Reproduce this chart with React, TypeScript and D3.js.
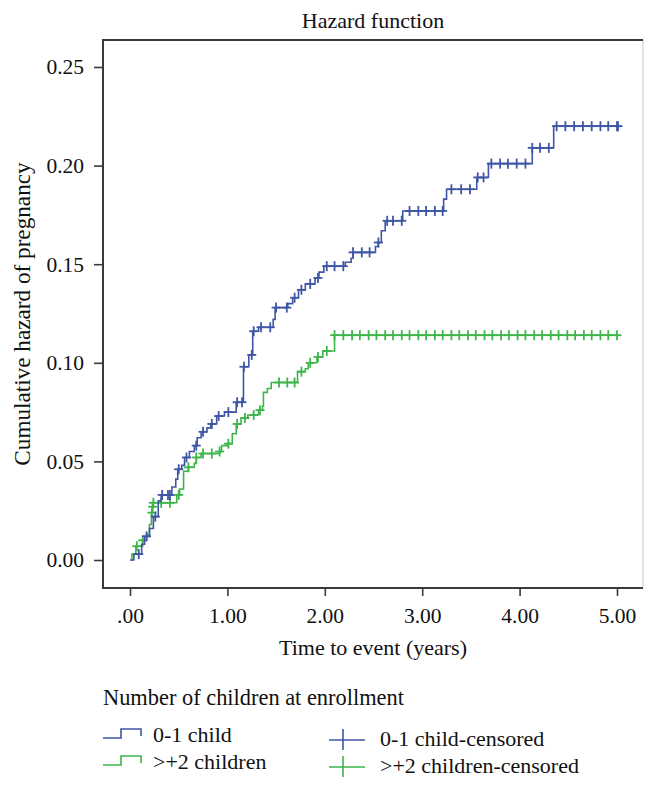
import React, { useEffect, useRef } from "react";
import * as d3 from "d3";

// step changes [time, cumulative hazard]
const blueSteps: [number, number][] = [
  [0.0, 0], [0.04, 0.003], [0.12, 0.008], [0.15, 0.012], [0.2, 0.016], [0.24, 0.022],
  [0.29, 0.03], [0.32, 0.033], [0.43, 0.037], [0.47, 0.041], [0.49, 0.046], [0.53, 0.048],
  [0.56, 0.052], [0.61, 0.055], [0.66, 0.058], [0.69, 0.062], [0.73, 0.065], [0.79, 0.067],
  [0.83, 0.069], [0.89, 0.073], [0.97, 0.075], [1.09, 0.08], [1.165, 0.098], [1.22, 0.104],
  [1.26, 0.116], [1.32, 0.118], [1.47, 0.122], [1.49, 0.128], [1.62, 0.13], [1.67, 0.133],
  [1.73, 0.137], [1.8, 0.14], [1.9, 0.143], [1.94, 0.146], [1.99, 0.149], [2.21, 0.151],
  [2.27, 0.153], [2.29, 0.156], [2.52, 0.159], [2.55, 0.161], [2.58, 0.167], [2.62, 0.172],
  [2.8, 0.177], [3.22, 0.183], [3.25, 0.188], [3.56, 0.194], [3.68, 0.201], [4.13, 0.209],
  [4.35, 0.22],
];
const blueEnd = 5.01;
const blueCensored = [
  0.09, 0.17, 0.26, 0.33, 0.39, 0.41, 0.5, 0.58, 0.68, 0.75, 0.84, 0.91, 1.01, 1.1, 1.15,
  1.17, 1.25, 1.27, 1.345, 1.44, 1.5, 1.61, 1.69, 1.76, 1.85, 1.93, 2.02, 2.1, 2.19, 2.29,
  2.38, 2.46, 2.55, 2.64, 2.7, 2.79, 2.87, 2.96, 3.04, 3.13, 3.21, 3.3, 3.4, 3.49, 3.57,
  3.63, 3.71, 3.8, 3.88, 3.97, 4.06, 4.13, 4.21, 4.3, 4.38, 4.47, 4.56, 4.65, 4.74, 4.83,
  4.91, 5.0, 5.01,
];

const greenSteps: [number, number][] = [
  [0.01, 0], [0.02, 0.003], [0.06, 0.007], [0.13, 0.01], [0.17, 0.013], [0.2, 0.018],
  [0.22, 0.024], [0.23, 0.027], [0.235, 0.029], [0.48, 0.033], [0.51, 0.036], [0.55, 0.045],
  [0.6, 0.047], [0.66, 0.049], [0.68, 0.052], [0.73, 0.054], [0.92, 0.055], [0.94, 0.058],
  [1.0, 0.059], [1.05, 0.064], [1.09, 0.069], [1.14, 0.072], [1.21, 0.0735], [1.32, 0.076],
  [1.36, 0.078], [1.37, 0.085], [1.41, 0.087], [1.45, 0.09], [1.72, 0.0955], [1.8, 0.097],
  [1.83, 0.1], [1.92, 0.103], [1.98, 0.106], [2.1, 0.114],
];
const greenEnd = 5.01;
const greenCensored = [
  0.07, 0.13, 0.225, 0.232, 0.24, 0.32, 0.41, 0.5, 0.6, 0.68, 0.75, 0.84, 0.92, 1.01, 1.1,
  1.18, 1.27, 1.335, 1.53, 1.615, 1.69, 1.76, 1.85, 1.93, 2.02, 2.1, 2.19, 2.28, 2.36, 2.45,
  2.53, 2.62, 2.7, 2.79, 2.87, 2.96, 3.04, 3.13, 3.21, 3.3, 3.38, 3.47, 3.55, 3.64, 3.72,
  3.81, 3.89, 3.98, 4.06, 4.15, 4.23, 4.32, 4.4, 4.49, 4.57, 4.66, 4.74, 4.83, 4.91, 5.0,
];

const xTicks = [0, 1, 2, 3, 4, 5];
const xTickLabels = [".00", "1.00", "2.00", "3.00", "4.00", "5.00"];
const yTicks = [0, 0.05, 0.1, 0.15, 0.2, 0.25];

const legendTitle = "Number of children at enrollment";
const seriesNames = ["0-1 child", ">+2 children"];
const censorNames = ["0-1 child-censored", ">+2 children-censored"];

const BLUE = "#3f56a6";
const GREEN = "#3db54a";
const AXIS = "#3a3a3a";
const FONT = "'Liberation Serif', 'Times New Roman', serif";

const App: React.FC = () => {
  const svgRef = useRef<SVGSVGElement | null>(null);

  useEffect(() => {
    const width = 658, height = 790;
    const svg = d3.select(svgRef.current).attr("width", width).attr("height", height);
    svg.selectAll("*").remove();

    const box = { left: 103, right: 643, top: 40, bottom: 588 };
    const x = d3.scaleLinear().domain([0, 5]).range([130, 617]);
    const y = d3.scaleLinear().domain([0, 0.25]).range([560, 67]);

    svg.append("rect").attr("width", width).attr("height", height).attr("fill", "#fff");

    // frame
    svg.append("line").attr("x1", box.right).attr("x2", box.right)
      .attr("y1", box.top).attr("y2", box.bottom).attr("stroke", "#c8c8c8").attr("stroke-width", 1);
    svg.append("line").attr("x1", box.left).attr("x2", box.right)
      .attr("y1", box.top).attr("y2", box.top).attr("stroke", AXIS).attr("stroke-width", 2);

    // axes
    const xAxis = svg.append("g").attr("transform", `translate(0,${box.bottom})`)
      .call(d3.axisBottom(x).tickValues(xTicks).tickSize(8).tickPadding(8)
        .tickFormat((_d, i) => xTickLabels[i]));
    const yAxis = svg.append("g").attr("transform", `translate(${box.left},0)`)
      .call(d3.axisLeft(y).tickValues(yTicks).tickSize(9).tickPadding(10)
        .tickFormat(d3.format(".2f")));
    [xAxis, yAxis].forEach(g => {
      g.select(".domain").remove();
      g.selectAll("line").attr("stroke", AXIS).attr("stroke-width", 1.6);
      g.selectAll("text").attr("font-family", FONT).attr("font-size", 21.5).attr("fill", "#111");
    });
    xAxis.selectAll("text").attr("dy", "0.9em");
    svg.append("line").attr("x1", box.left).attr("x2", box.left)
      .attr("y1", box.top - 1).attr("y2", box.bottom + 1).attr("stroke", AXIS).attr("stroke-width", 2);
    svg.append("line").attr("x1", box.left - 1).attr("x2", box.right)
      .attr("y1", box.bottom).attr("y2", box.bottom).attr("stroke", AXIS).attr("stroke-width", 2);

    // curves
    const line = d3.line<[number, number]>()
      .x(d => x(d[0])).y(d => y(d[1])).curve(d3.curveStepAfter);

    const valueAt = (steps: [number, number][], t: number) => {
      let v = steps[0][1];
      for (const s of steps) if (s[0] <= t) v = s[1];
      return v;
    };

    const series = [
      { steps: blueSteps, end: blueEnd, censored: blueCensored, color: BLUE },
      { steps: greenSteps, end: greenEnd, censored: greenCensored, color: GREEN },
    ];
    // green drawn first so blue sits on top where they overlap
    [...series].reverse().forEach(s => {
      const pts: [number, number][] = [...s.steps, [s.end, s.steps[s.steps.length - 1][1]]];
      svg.append("path").datum(pts).attr("fill", "none").attr("stroke", s.color)
        .attr("stroke-width", 1.6).attr("d", line);
      const g = svg.append("g").attr("stroke", s.color).attr("stroke-width", 1.8);
      s.censored.forEach(t => {
        const cx = x(t), cy = y(valueAt(s.steps, t));
        g.append("line").attr("x1", cx).attr("x2", cx).attr("y1", cy - 5).attr("y2", cy + 5);
        g.append("line").attr("x1", cx - 4.5).attr("x2", cx + 4.5).attr("y1", cy).attr("y2", cy);
      });
    });

    // titles
    const text = (tx: number, ty: number, s: string, size: number, anchor = "start") =>
      svg.append("text").attr("x", tx).attr("y", ty).attr("font-family", FONT)
        .attr("font-size", size).attr("fill", "#111").attr("text-anchor", anchor).text(s);

    text((box.left + box.right) / 2, 28, "Hazard function", 22, "middle");
    text((box.left + box.right) / 2, 655, "Time to event (years)", 22, "middle");
    svg.append("text").attr("transform", "rotate(-90)")
      .attr("x", -(box.top + box.bottom) / 2).attr("y", 30)
      .attr("font-family", FONT).attr("font-size", 23.2).attr("fill", "#111")
      .attr("text-anchor", "middle").text("Cumulative hazard of pregnancy");

    // legend
    text(103, 705, legendTitle, 22.4);
    const colors = [BLUE, GREEN];
    [742, 769].forEach((by, i) => {
      svg.append("path")
        .attr("d", `M103,${by - 4}H121V${by - 13}H141V${by - 6}`)
        .attr("fill", "none").attr("stroke", colors[i]).attr("stroke-width", 1.6);
      text(153, by, seriesNames[i], 22);
    });
    [740, 767].forEach((cy, i) => {
      const g = svg.append("g").attr("stroke", colors[i]).attr("stroke-width", 1.6);
      g.append("line").attr("x1", 329).attr("x2", 365).attr("y1", cy).attr("y2", cy);
      g.append("line").attr("x1", 343).attr("x2", 343).attr("y1", cy - 11).attr("y2", cy + 10);
      text(380, cy + 6, censorNames[i], 22);
    });
  }, []);

  return (
    <svg ref={svgRef} style={{ position: "absolute", left: 0, top: 0, display: "block" }}></svg>
  );
};

export default App;
